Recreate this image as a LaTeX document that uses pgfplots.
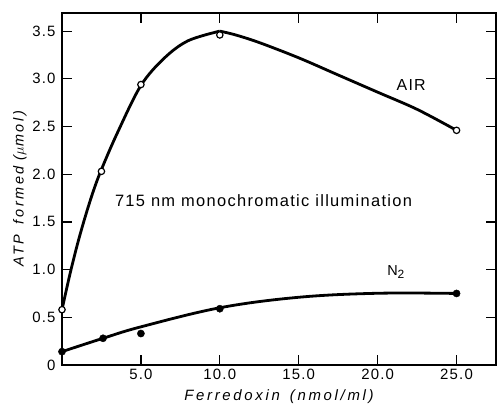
\documentclass[border=0pt]{standalone}
\usepackage{fontspec}
\setmainfont{Liberation Sans}
\newfontfamily\spaced[LetterSpace=8]{Liberation Sans}
\newfontfamily\wspaced[LetterSpace=18]{Liberation Sans}
\usepackage{pgfplots}
\pgfplotsset{compat=1.18}
\begin{document}
\begin{tikzpicture}
\path[use as bounding box] (-62bp,-39bp) rectangle (435bp,365bp);
\begin{axis}[
  scale only axis,
  width=434bp, height=352bp,
  xmin=0, xmax=27.5, ymin=0, ymax=3.69,
  clip=false,
  axis line style={line width=1.4bp},
  tick style={line width=1.2bp, black},
  major tick length=10bp,
  tick align=inside,
  xtick={5,10,15,20,25},
  xticklabels={5.0,10.0,15.0,20.0,25.0},
  ytick={0,0.5,1,1.5,2,2.5,3,3.5},
  yticklabels={0,0.5,1.0,1.5,2.0,2.5,3.0,3.5},
  /pgf/number format/assume math mode=true,
  ticklabel style={font=\spaced\fontsize{15}{18}\selectfont},
  yticklabel style={xshift=-3bp},
  xticklabel style={yshift=-1bp},
  xlabel={\itshape Ferredoxin\hspace{10bp}(nmol/ml)},
  ylabel={\itshape ATP\hspace{4bp} formed\hspace{6bp}($\mu$mol)},
  xlabel style={font=\wspaced\fontsize{15}{18}\selectfont, at={(axis description cs:0.5,0)}, anchor=center, yshift=-32bp},
  ylabel style={font=\wspaced\fontsize{14.5}{18}\selectfont, at={(axis description cs:-0.097,0.5)}, anchor=center},
]
% AIR fitted curve
\addplot[line width=2.8bp, smooth, tension=0.55] coordinates {
 (0,0.58) (0.5,0.95) (1,1.28) (1.5,1.57) (2,1.83) (2.5,2.05) (3.5,2.43) (5,2.93)
 (6.5,3.22) (8,3.40) (10,3.50)
};
\addplot[line width=2.8bp, smooth, tension=0.55] coordinates {
 (10,3.50) (11,3.46) (12.5,3.38) (15,3.22) (17.5,3.04) (20,2.86) (22.5,2.68) (25,2.46)
};
% N2 fitted curve
\addplot[line width=2.8bp, smooth, tension=0.6] coordinates {
 (0,0.14) (2.6,0.28) (5,0.40) (10,0.60) (15,0.71) (20,0.752) (25,0.75)
};
% AIR data (open circles)
\addplot[only marks, mark=*, mark size=3.2bp, mark options={fill=white, draw=black, line width=1.2bp}] coordinates {
 (0,0.58) (2.5,2.03) (5,2.94) (10,3.46) (25,2.46)
};
% N2 data (filled circles)
\addplot[only marks, mark=*, mark size=3.6bp, mark options={fill=black, draw=black}] coordinates {
 (0,0.14) (2.6,0.28) (5,0.33) (10,0.59) (25,0.75)
};
\node[anchor=base west, font=\spaced\fontsize{16}{18}\selectfont] at (axis cs:20.98,2.88) {AIR};
\node[anchor=base west, font=\spaced\fontsize{14.5}{18}\selectfont, inner sep=0pt] at (axis cs:20.6,0.943) {N\raisebox{-3.5bp}{\fontsize{12}{14}\selectfont 2}};
\node[anchor=base, font=\spaced\fontsize{16.5}{18}\selectfont] at (axis cs:12.77,1.666) {715\hspace{6bp}nm\hspace{6bp}monochromatic\hspace{6bp}illumination};
\end{axis}
\end{tikzpicture}
\end{document}
